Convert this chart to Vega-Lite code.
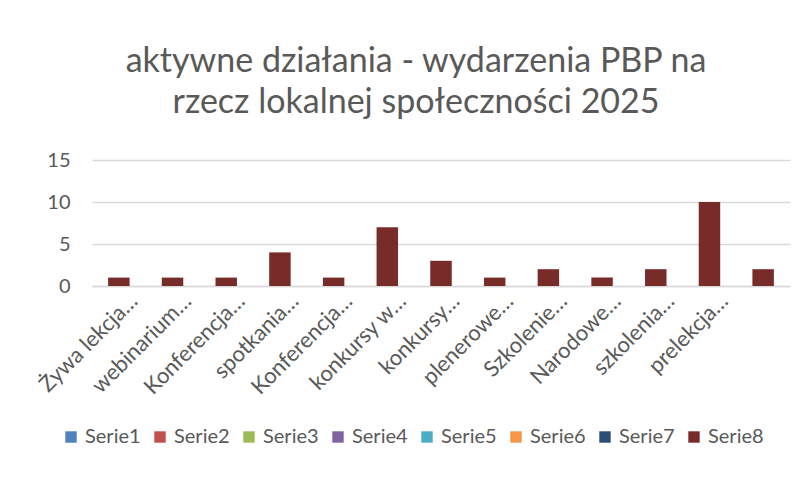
{
  "$schema": "https://vega.github.io/schema/vega-lite/v6.json",
  "width": 698,
  "height": 126,
  "autosize": "none",
  "padding": {"left": 92, "top": 160, "right": 20, "bottom": 191},
  "background": "white",
  "config": {
    "font": "Lato",
    "view": {"stroke": null}
  },
  "title": {
    "text": ["aktywne działania - wydarzenia PBP na", "rzecz lokalnej społeczności 2025"],
    "fontSize": 34,
    "font": "Lato",
    "fontWeight": "normal",
    "color": "#595959",
    "anchor": "middle",
    "dx": -25,
    "lineHeight": 41,
    "offset": 30
  },
  "data": {
    "values": [
      {"nazwa": "Żywa lekcja…#1", "seria": "Serie8", "liczba": 1},
      {"nazwa": "webinarium…#2", "seria": "Serie8", "liczba": 1},
      {"nazwa": "Konferencja…#3", "seria": "Serie8", "liczba": 1},
      {"nazwa": "spotkania…#4", "seria": "Serie8", "liczba": 4},
      {"nazwa": "Konferencja…#5", "seria": "Serie8", "liczba": 1},
      {"nazwa": "konkursy w…#6", "seria": "Serie8", "liczba": 7},
      {"nazwa": "konkursy…#7", "seria": "Serie8", "liczba": 3},
      {"nazwa": "plenerowe…#8", "seria": "Serie8", "liczba": 1},
      {"nazwa": "Szkolenie…#9", "seria": "Serie8", "liczba": 2},
      {"nazwa": "Narodowe…#10", "seria": "Serie8", "liczba": 1},
      {"nazwa": "szkolenia…#11", "seria": "Serie8", "liczba": 2},
      {"nazwa": "prelekcja…#12", "seria": "Serie8", "liczba": 10},
      {"nazwa": "#13", "seria": "Serie8", "liczba": 2}
    ]
  },
  "mark": {"type": "bar"},
  "encoding": {
    "x": {
      "field": "nazwa",
      "type": "nominal",
      "sort": null,
      "scale": {"paddingInner": 0.6, "paddingOuter": 0.3},
      "axis": {
        "title": null,
        "labelExpr": "split(datum.value, '#')[0]",
        "labelAngle": -45,
        "labelAlign": "right",
        "labelBaseline": "top",
        "labelFontSize": 22,
        "labelColor": "#595959",
        "labelPadding": 4,
        "labelOffset": 8,
        "ticks": false,
        "domain": true,
        "domainColor": "#D9D9D9",
        "domainWidth": 1.5,
        "grid": false,
        "labelOverlap": false,
        "labelLimit": 0
      }
    },
    "y": {
      "field": "liczba",
      "type": "quantitative",
      "scale": {"domain": [0, 15], "nice": false},
      "axis": {
        "title": null,
        "values": [0, 5, 10, 15],
        "labelFontSize": 20,
        "labelColor": "#595959",
        "labelPadding": 22,
        "ticks": false,
        "domain": false,
        "gridColor": "#D9D9D9",
        "gridWidth": 1.5
      }
    },
    "color": {
      "field": "seria",
      "type": "nominal",
      "scale": {
        "domain": ["Serie1", "Serie2", "Serie3", "Serie4", "Serie5", "Serie6", "Serie7", "Serie8"],
        "range": ["#4F81BD", "#C0504D", "#9BBB59", "#8064A2", "#4BACC6", "#F79646", "#2C4D75", "#772C2A"]
      },
      "legend": {
        "title": null,
        "orient": "none",
        "direction": "horizontal",
        "legendX": -31,
        "legendY": 267,
        "symbolType": "square",
        "symbolSize": 130,
        "symbolStrokeWidth": 0,
        "symbolOpacity": 1,
        "labelFontSize": 20,
        "labelColor": "#595959",
        "labelOffset": 4,
        "columnPadding": 9,
        "gridAlign": "none"
      }
    }
  }
}
